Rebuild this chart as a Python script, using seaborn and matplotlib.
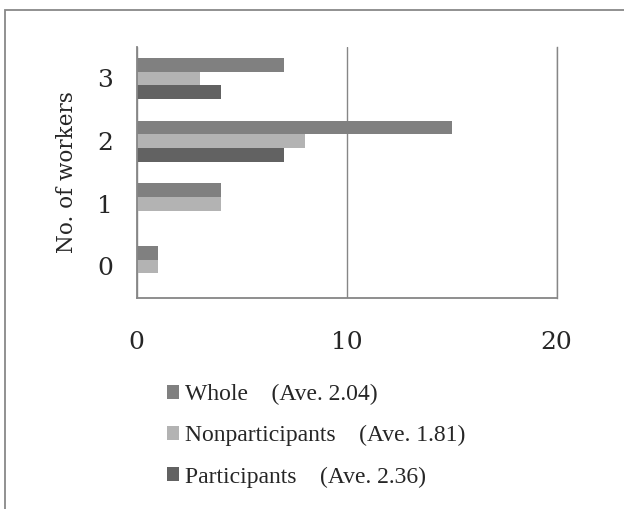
#Number of workers per group - horizontal bar chart

#Import Packages
import pandas as pd
import seaborn as sns
import matplotlib.pyplot as plt
from matplotlib.patches import Patch, Rectangle


#Data (categories from top to bottom)
workers = ['3', '2', '1', '0']
whole = [7, 15, 4, 1]
nonparticipants = [3, 8, 4, 1]
participants = [4, 7, 0, 0]

series_names = ['Whole', 'Nonparticipants', 'Participants']
legend_labels = ['Whole    (Ave. 2.04)',
                 'Nonparticipants    (Ave. 1.81)',
                 'Participants    (Ave. 2.36)']
colors = ['#808080', '#b3b3b3', '#626262']
x_ticks = [0, 10, 20]

df = pd.DataFrame({'Workers': workers,
                   'Whole': whole,
                   'Nonparticipants': nonparticipants,
                   'Participants': participants})
df_long = pd.melt(df, id_vars=['Workers'], value_vars=series_names,
                  var_name='Group', value_name='Count')


#Style
sns.set_style('white')
plt.rcParams['font.family'] = ['DejaVu Serif']

fig = plt.figure(figsize=(6.24, 5.09), dpi=100)
ax = fig.add_axes([0.219, 0.415, 0.673, 0.4925])

sns.barplot(data=df_long, y='Workers', x='Count', hue='Group', order=workers,
            hue_order=series_names, palette=colors, orient='h', width=0.655,
            gap=0, linewidth=0, saturation=1, ax=ax)
ax.legend_.remove()

#Axes
ax.set_xlim(0, 20)
ax.set_xticks(x_ticks)
ax.xaxis.grid(True, color='#868686', linewidth=1.0)
ax.yaxis.grid(False)
ax.set_axisbelow(True)
ax.set_xlabel('')
ax.set_ylabel('No. of workers', fontsize=15.5)
ax.yaxis.set_label_coords(-0.14, 0.5)

ax.spines['top'].set_visible(False)
ax.spines['right'].set_color('#868686')
ax.spines['right'].set_linewidth(1.0)
for side in ['left', 'bottom']:
    ax.spines[side].set_color('#868686')
    ax.spines[side].set_linewidth(1.3)

ax.tick_params(axis='x', length=0, labelsize=18, pad=24)
ax.tick_params(axis='y', length=0, labelsize=18, pad=17)

#Legend under the chart
handles = [Patch(facecolor=c, edgecolor='none', label=l) for c, l in zip(colors, legend_labels)]
fig.legend(handles=handles, loc='upper left', bbox_to_anchor=(166.7 / 624, 0.2456),
           frameon=False, borderpad=0, borderaxespad=0, handlelength=0.535,
           handleheight=0.52, handletextpad=0.22, labelspacing=0.85,
           prop={'family': 'Liberation Serif', 'size': 17})

#Outer frame
fig.patches.append(Rectangle((5 / 624, -0.1), 2, 1.1 - 10 / 509, transform=fig.transFigure,
                             fill=False, edgecolor='#888888', linewidth=1.3))

plt.savefig('out.png', dpi=100)
